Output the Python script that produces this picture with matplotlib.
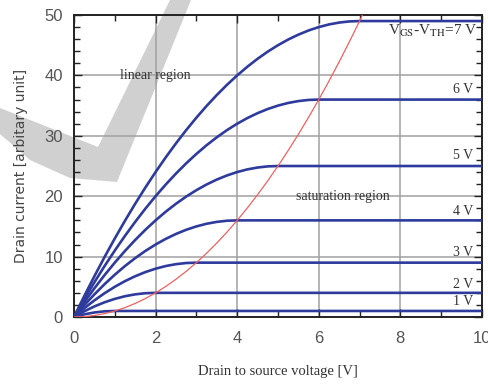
#!/usr/bin/env python

"""
MOSFET output characteristics: drain current vs drain-source voltage.
"""

import matplotlib
matplotlib.use('Agg')
import matplotlib.pyplot as plt
from matplotlib.patches import Polygon

# Drain-source voltage samples [V] for the rising (linear region) part
VDS = [0.0, 0.25, 0.5, 0.75, 1.0, 1.25, 1.5, 1.75, 2.0, 2.25, 2.5, 2.75,
       3.0, 3.25, 3.5, 3.75, 4.0, 4.25, 4.5, 4.75, 5.0, 5.25, 5.5, 5.75,
       6.0, 6.25, 6.5, 6.75, 7.0]
VDS_END = 10.0

# Drain current, one list per VGS-VTH curve
ID_1V = [0, 0.44, 0.75, 0.94, 1]
ID_2V = [0, 0.94, 1.75, 2.44, 3, 3.44, 3.75, 3.94, 4]
ID_3V = [0, 1.44, 2.75, 3.94, 5, 5.94, 6.75, 7.44, 8, 8.44, 8.75, 8.94, 9]
ID_4V = [0, 1.94, 3.75, 5.44, 7, 8.44, 9.75, 10.94, 12, 12.94, 13.75,
         14.44, 15, 15.44, 15.75, 15.94, 16]
ID_5V = [0, 2.44, 4.75, 6.94, 9, 10.94, 12.75, 14.44, 16, 17.44, 18.75,
         19.94, 21, 21.94, 22.75, 23.44, 24, 24.44, 24.75, 24.94, 25]
ID_6V = [0, 2.94, 5.75, 8.44, 11, 13.44, 15.75, 17.94, 20, 21.94, 23.75,
         25.44, 27, 28.44, 29.75, 30.94, 32, 32.94, 33.75, 34.44, 35, 35.44,
         35.75, 35.94, 36]
ID_7V = [0, 3.44, 6.75, 9.94, 13, 15.94, 18.75, 21.44, 24, 26.44, 28.75,
         30.94, 33, 34.94, 36.75, 38.44, 40, 41.44, 42.75, 43.94, 45, 45.94,
         46.75, 47.44, 48, 48.44, 48.75, 48.94, 49]
CURVES = [ID_1V, ID_2V, ID_3V, ID_4V, ID_5V, ID_6V, ID_7V]

# Boundary between linear and saturation region
EDGE_VDS = VDS + [7.07]
EDGE_ID = [0, 0.06, 0.25, 0.56, 1, 1.56, 2.25, 3.06, 4, 5.06, 6.25, 7.56,
           9, 10.56, 12.25, 14.06, 16, 18.06, 20.25, 22.56, 25, 27.56, 30.25,
           33.06, 36, 39.06, 42.25, 45.56, 49, 50]

# Curve labels on the right: (text, y position)
LABELS = [('1 V', 2.5), ('2 V', 5.3), ('3 V', 10.6), ('4 V', 17.4),
          ('5 V', 26.8), ('6 V', 37.6)]

BLUE = '#2e3b9c'
RED = '#f26060'
SERIF = 'Liberation Serif'


def main():
    plt.rcParams['mathtext.fontset'] = 'stix'
    fig = plt.figure(figsize=(4.88, 3.85), dpi=100, facecolor='white')
    ax = fig.add_axes([0.1516, 0.1766, 0.836, 0.7844])
    ax.set_facecolor('none')

    for ids in CURVES:
        xs = VDS[:len(ids)] + [VDS_END]
        ys = ids + [ids[-1]]
        ax.plot(xs, ys, color=BLUE, lw=1.9, zorder=3, solid_capstyle='butt')
    ax.plot(EDGE_VDS, EDGE_ID, color=RED, lw=0.9, zorder=4)

    ax.set_xlim(0, 10)
    ax.set_ylim(0, 50)
    ax.set_xticks([0, 2, 4, 6, 8, 10])
    ax.set_xticks([1, 3, 5, 7, 9], minor=True)
    ax.set_yticks([0, 10, 20, 30, 40, 50])
    ax.set_yticks([2, 4, 6, 8, 12, 14, 16, 18, 22, 24, 26, 28,
                   32, 34, 36, 38, 42, 44, 46, 48], minor=True)
    ax.grid(True, which='major', color='#a0a0a0', lw=1.1, zorder=1)
    ax.tick_params(which='both', direction='in', top=True, right=True,
                   colors='#222222', labelcolor='#555555', width=1.0)
    ax.tick_params(which='major', length=6, labelsize=12)
    ax.tick_params(axis='x', which='major', pad=10)
    ax.tick_params(axis='y', which='major', pad=8)
    ax.tick_params(which='minor', length=4)
    for lab in ax.get_xticklabels() + ax.get_yticklabels():
        lab.set_family('Liberation Sans')
    for sp in ax.spines.values():
        sp.set_linewidth(1.4)
        sp.set_color('#222222')

    ax.set_xlabel('Drain to source voltage [V]', family=SERIF, fontsize=10.5,
                  color='#333333', labelpad=14)
    ax.set_ylabel('Drain current [arbitary unit]', family='DejaVu Sans',
                  fontsize=10, color='#444444', labelpad=12)

    ax.text(2.0, 40, 'linear region', family=SERIF, fontsize=10,
            ha='center', va='center', color='#333333', zorder=5)
    ax.text(6.6, 20, 'saturation region', family=SERIF, fontsize=10,
            ha='center', va='center', color='#333333', zorder=5)
    ax.text(9.9, 47.4, r'V$_{\rm GS}$-V$_{\rm TH}$=7 V', family=SERIF,
            fontsize=11, ha='right', va='center', color='#333333', zorder=5)
    for txt, y in LABELS:
        ax.text(9.78, y, txt, family=SERIF, fontsize=10, ha='right',
                va='center', color='#333333', zorder=5)

    # Grey watermark stroke behind the plot (figure pixels)
    mark = [(0, 108), (98, 147), (170, 0), (191, 0), (117, 182),
            (70, 178), (30, 160), (0, 134)]
    mark = [(x / 488.0, 1 - y / 385.0) for x, y in mark]
    fig.patches.append(Polygon(mark, closed=True, transform=fig.transFigure,
                               facecolor='#d0d0d0', edgecolor='none',
                               zorder=-1))

    fig.savefig('out.png', dpi=100, facecolor='white')


if __name__ == "__main__":
    main()
